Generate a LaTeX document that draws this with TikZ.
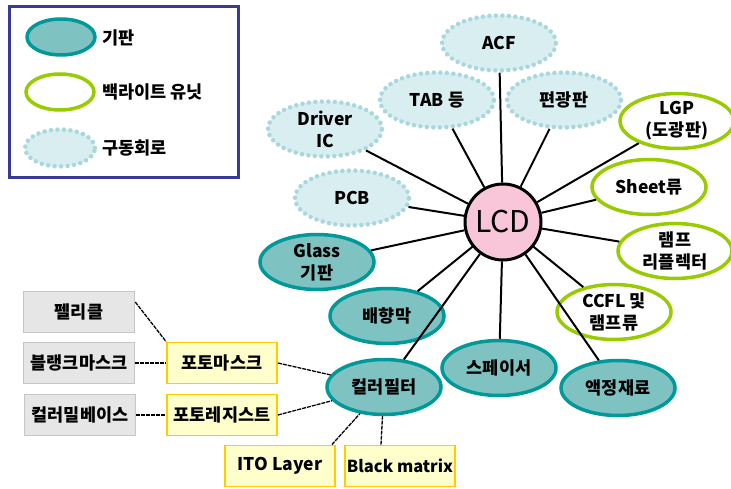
\documentclass[tikz,border=0pt]{standalone}
\usepackage{fontspec}
\newfontfamily\kr{Noto Sans CJK KR}
\usetikzlibrary{shapes.geometric}
\definecolor{tealbd}{HTML}{009999}
\definecolor{tealfill}{HTML}{7FC2C2}
\definecolor{limebd}{HTML}{99CC00}
\definecolor{drvbd}{HTML}{A8D8DD}
\definecolor{drvfill}{HTML}{D8EEF0}
\definecolor{lcdfill}{HTML}{F9C6D9}
\definecolor{legbd}{HTML}{3A3A9A}
\definecolor{grayfill}{HTML}{E6E6E6}
\definecolor{graybd}{HTML}{C6C6C6}
\definecolor{ylwfill}{HTML}{FFFFCC}
\definecolor{ylwbd}{HTML}{FFCC00}
\begin{document}
\begin{tikzpicture}[x=1pt,y=-1pt,
  every node/.style={font=\kr\bfseries\fontsize{17.5}{22}\selectfont, align=center, inner sep=0pt, text=black},
  base/.style={ellipse, minimum width=114pt, minimum height=55pt},
  subst/.style={base, draw=tealbd, fill=tealfill, line width=3.5pt},
  blu/.style={base, draw=limebd, fill=white, line width=3.5pt},
  drive/.style={base, draw=drvbd, fill=drvfill, line width=4.5pt, dash pattern=on 0pt off 6.5pt, line cap=round},
  legsubst/.style={subst, minimum width=68pt, minimum height=36pt},
  legblu/.style={blu, minimum width=68pt, minimum height=36pt},
  legdrive/.style={drive, minimum width=70pt, minimum height=37pt},
  graybox/.style={rectangle, draw=graybd, fill=grayfill, line width=1.5pt, minimum width=111pt, minimum height=41pt},
  ylwbox/.style={rectangle, draw=ylwbd, fill=ylwfill, line width=1.8pt, minimum width=110pt, minimum height=41pt},
  spoke/.style={draw=black, line width=2pt},
  minor/.style={draw=black, line width=1.3pt, dash pattern=on 4pt off 1pt}
]
\fill[white] (0,0) rectangle (731,489);
\useasboundingbox (0,0) rectangle (731,489);

% legend
\node[rectangle, draw=legbd, line width=2.5pt, minimum width=229pt, minimum height=171pt] (legend) at (124,92) {};
\node[legsubst] (lg1) at (61,37) {};
\node[anchor=west] (lt1) at (102,38) {기판};
\node[legblu] (lg2) at (60,92) {};
\node[anchor=west] (lt2) at (102,92) {백라이트 유닛};
\node[legdrive] (lg3) at (60,148) {};
\node[anchor=west] (lt3) at (102,148) {구동회로};

% satellites
\node[drive] (acf) at (499,43) {ACF};
\node[drive] (tab) at (437,100) {TAB 등};
\node[drive] (pol) at (564,100) {편광판};
\node[drive] (drv) at (325,129) {Driver\\IC};
\node[drive] (pcb) at (352,198) {PCB};
\node[blu] (lgp) at (677,121) {LGP\\(도광판)};
\node[blu] (sheet) at (649,187) {Sheet류};
\node[blu] (lamp) at (675,251) {램프\\리플렉터};
\node[blu] (ccfl) at (614,312) {CCFL 및\\램프류};
\node[subst] (glass) at (317,262) {Glass\\기판};
\node[subst] (align) at (387,316) {배향막};
\node[subst] (cf) at (384,387) {컬러필터};
\node[subst] (spacer) at (499,368) {스페이서};
\node[subst] (lc) at (618,388) {액정재료};

% center
\node[circle, draw=black, fill=lcdfill, line width=3pt, minimum size=76pt, font=\kr\fontsize{30}{32}\selectfont] (lcd) at (503,222) {LCD};

% boxes
\node[graybox] (pel) at (79,312) {펠리클};
\node[graybox] (blank) at (79,363) {블랭크마스크};
\node[graybox] (mill) at (80,415) {컬러밀베이스};
\node[ylwbox] (pm) at (222,363) {포토마스크};
\node[ylwbox] (pr) at (222,415) {포토레지스트};
\node[ylwbox] (ito) at (280,466) {ITO Layer};
\node[ylwbox, font=\kr\bfseries\fontsize{16.5}{20}\selectfont] (bm) at (400,466) {Black matrix};

% spokes
\foreach \t in {acf,tab,pol,drv,pcb,lgp,sheet,lamp,ccfl,glass,align,cf,spacer,lc}
  \path[spoke] (lcd) -- (\t);

% minor connectors
\path[minor] (pm.east) -- (cf);
\path[minor] (pr.east) -- (cf);
\path[minor] ([xshift=-4pt]ito.north east) -- (cf);
\path[minor] ([xshift=-19pt]bm.north) -- (cf);
\path[minor] ([yshift=10pt]pel.east) -- (pm.north west);
\path[minor] (blank.east) -- (pm.west);
\path[minor] (mill.east) -- (pr.west);
\end{tikzpicture}
\end{document}
